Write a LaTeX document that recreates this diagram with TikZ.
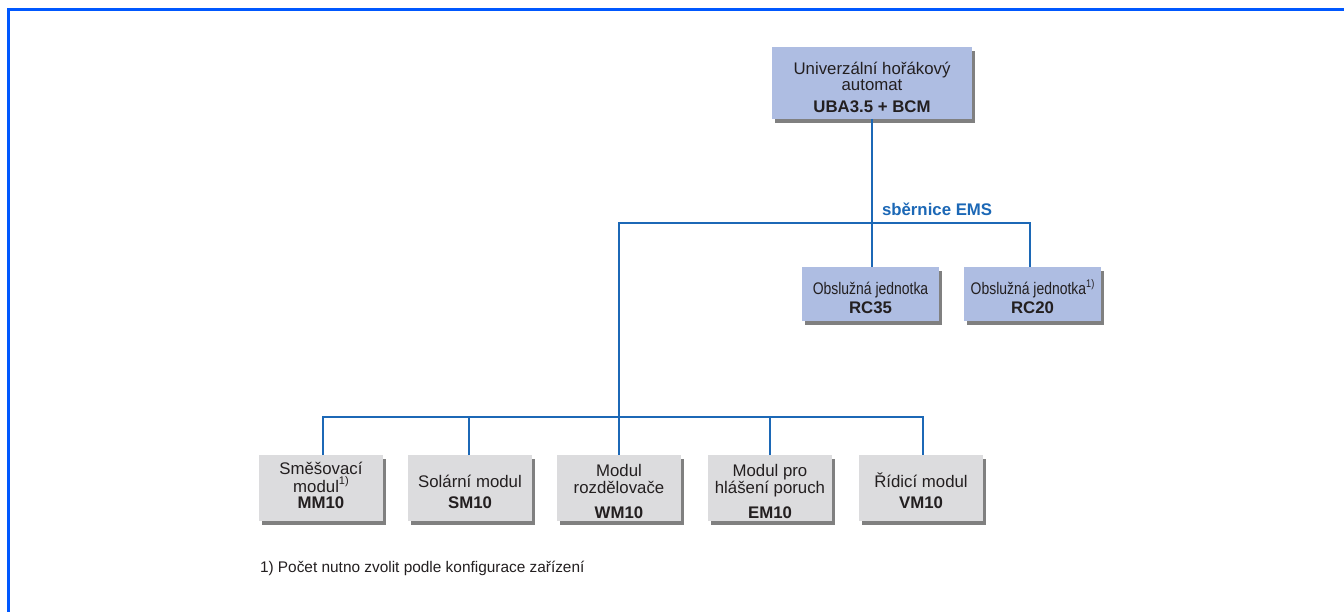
\documentclass[tikz,border=0pt]{standalone}
\usepackage{fontspec}
\setmainfont{Liberation Sans}
\newfontfamily\narrowfont[FakeStretch=0.83]{Liberation Sans}
\usetikzlibrary{shadows}
\definecolor{framecol}{RGB}{0,88,255}
\definecolor{buscol}{RGB}{28,104,182}
\definecolor{bluebox}{RGB}{174,189,226}
\definecolor{graybox}{RGB}{220,220,222}
\definecolor{shadowcol}{RGB}{128,128,128}
\definecolor{txt}{RGB}{35,31,32}
\newcommand\fnmk{\raisebox{7.5pt}{\fontsize{11}{11}\selectfont 1)}}
\begin{document}
\begin{tikzpicture}[x=1pt,y=-1pt,
  box/.style={draw=none, inner sep=0pt, outer sep=0pt,
    drop shadow={shadow xshift=3pt, shadow yshift=-4pt, fill=shadowcol, opacity=1}},
  bluebx/.style={box, fill=bluebox},
  graybx/.style={box, fill=graybox, minimum width=124pt, minimum height=66pt},
  lbl/.style={anchor=base, inner sep=0pt, outer sep=0pt, text=txt, font=\fontsize{16.8}{18}\selectfont},
  blbl/.style={lbl, font=\fontsize{16.8}{18}\selectfont\bfseries},
  nlbl/.style={lbl, font=\fontsize{16.8}{18}\selectfont\narrowfont},
  bus/.style={draw=buscol, line width=2pt}
]
\useasboundingbox (0,0) rectangle (1344,612);
\fill[white] (0,0) rectangle (1344,612);
% frame
\draw[framecol, line width=3pt] (8.5,612) -- (8.5,9.5) -- (1344,9.5);

% boxes
\node[bluebx, minimum width=200pt, minimum height=72pt] (top) at (872,83) {};
\node[bluebx, minimum width=137pt, minimum height=54pt] (rc35) at (870.5,294) {};
\node[bluebx, minimum width=137pt, minimum height=54pt] (rc20) at (1032.5,294) {};
\node[graybx] (mm) at (321,488) {};
\node[graybx] (sm) at (470,488) {};
\node[graybx] (wm) at (619,488) {};
\node[graybx] (em) at (770,488) {};
\node[graybx] (vm) at (921,488) {};

% connectors
\coordinate (busL) at (619,223);
\coordinate (busB) at (0,417);
\draw[bus] (top.south) -- (top.south |- rc35.north);
\draw[bus] ([xshift=-2.5pt]rc20.north) |- (busL) -- (wm.north);
\draw[bus] ([xshift=2pt]mm.north) |- ([xshift=2pt]vm.north |- busB) -- ([xshift=2pt]vm.north);
\draw[bus] ([xshift=-1pt]sm.north) -- ([xshift=-1pt]sm.north |- busB);
\draw[bus] (em.north) -- (em.north |- busB);

\node[blbl, text=buscol, anchor=base west] (ems) at (882,216) {sběrnice EMS};

% texts
\node[lbl]  (t1) at (872,75) {Univerzální hořákový};
\node[lbl]  (t2) at (872,91) {automat};
\node[blbl] (t3) at (872,113) {UBA3.5 + BCM};

\node[nlbl] (r1) at (870.5,295) {Obslužná jednotka};
\node[blbl] (r2) at (870.5,313) {RC35};
\node[nlbl] (r3) at (1032.5,295) {Obslužná jednotka\fnmk};
\node[blbl] (r4) at (1032.5,313) {RC20};

\node[lbl]  (m1) at (321,474) {Směšovací};
\node[lbl]  (m2) at (321,492) {modul\fnmk};
\node[blbl] (m3) at (321,508) {MM10};

\node[lbl]  (s1) at (470,487) {Solární modul};
\node[blbl] (s2) at (470,508) {SM10};

\node[lbl]  (w1) at (619,476) {Modul};
\node[lbl]  (w2) at (619,493) {rozdělovače};
\node[blbl] (w3) at (619,518) {WM10};

\node[lbl]  (e1) at (770,476) {Modul pro};
\node[lbl]  (e2) at (770,493) {hlášení poruch};
\node[blbl] (e3) at (770,518) {EM10};

\node[lbl]  (v1) at (921,487) {Řídicí modul};
\node[blbl] (v2) at (921,508) {VM10};

\node[lbl, anchor=base west, font=\fontsize{15.4}{17}\selectfont] (fn) at (260,572) {1) Počet nutno zvolit podle konfigurace zařízení};
\end{tikzpicture}
\end{document}
